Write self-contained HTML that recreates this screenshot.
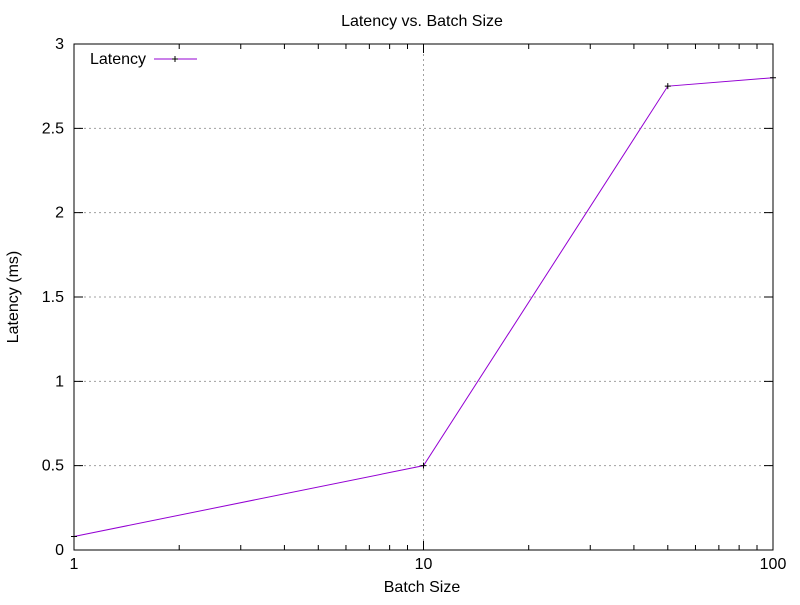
<!DOCTYPE html>
<html><head><meta charset="utf-8"><style>
html,body{margin:0;padding:0;background:#fff;}
svg text{font-family:"Liberation Sans",sans-serif;font-size:16px;fill:#000;}
</style></head><body>
<svg id="chart" width="800" height="600" xmlns="http://www.w3.org/2000/svg">
<rect width="800" height="600" fill="#fff"/>
<g id="grid"></g>
<g id="axes"></g>
<g id="series"></g>
<text x="422" y="26" text-anchor="middle">Latency vs. Batch Size</text>
<text x="422" y="592" text-anchor="middle">Batch Size</text>
<text transform="translate(18,297) rotate(-90)" text-anchor="middle">Latency (ms)</text>
<g>
<text x="90" y="64">Latency</text>
<line x1="154" y1="59" x2="197" y2="59" stroke="#9400d3" stroke-width="1"/>
<path d="M172 59h6M175 56v6" stroke="#000" stroke-width="1"/>
</g>
</svg>
<script>
const batchSizes=[1,10,50,100];
const latencies=[0.08,0.5,2.75,2.8];
const yTicks=[0,0.5,1,1.5,2,2.5,3];
const yTickLabels=["0","0.5","1","1.5","2","2.5","3"];
const xTicks=[1,10,100];
const xTickLabels=["1","10","100"];
const L=74,R=773,T=44,B=550;
const xs=v=>L+(Math.log10(v)-0)/(2-0)*(R-L);
const ys=v=>B-(v-0)/(3-0)*(B-T);
const NS="http://www.w3.org/2000/svg";
function mk(tag,attrs,parent){const e=document.createElementNS(NS,tag);for(const k in attrs)e.setAttribute(k,attrs[k]);parent.appendChild(e);return e;}
const grid=document.getElementById('grid'),axes=document.getElementById('axes'),series=document.getElementById('series');
yTicks.forEach((t,i)=>{const y=ys(t);
 if(t>0&&t<3){const g=mk('line',{x1:L,x2:R,y1:y,y2:y,stroke:'#a0a0a0','stroke-dasharray':'2,3','stroke-width':1},grid);
 }
 const a=mk('path',{d:`M${L} ${y}h9M${R} ${y}h-9`,stroke:'#000','stroke-width':1},axes);
 
 const tx=mk('text',{x:L-10,y:y+5,'text-anchor':'end'},axes);tx.textContent=yTickLabels[i];
 });
xTicks.forEach((t,i)=>{const x=xs(t);
 if(t>1&&t<100){const g=mk('line',{x1:x,x2:x,y1:T,y2:B,stroke:'#a0a0a0','stroke-dasharray':'2,3','stroke-width':1},grid);
 }
 const a=mk('path',{d:`M${x} ${B}v-9M${x} ${T}v9`,stroke:'#000','stroke-width':1},axes);
 
 const tx=mk('text',{x:x,y:B+19,'text-anchor':'middle'},axes);tx.textContent=xTickLabels[i];
 });
[1,10].forEach(d=>{for(let m=2;m<=9;m++){const x=xs(d*m);
 const a=mk('path',{d:`M${x} ${B}v-5M${x} ${T}v5`,stroke:'#000','stroke-width':1},axes);
 }});
const border=mk('rect',{x:L,y:T,width:R-L,height:B-T,fill:'none',stroke:'#000','stroke-width':1},axes);

const pts=batchSizes.map((b,i)=>xs(b)+','+ys(latencies[i])).join(' ');
const pl=mk('polyline',{points:pts,fill:'none',stroke:'#9400d3','stroke-width':1},series);

batchSizes.forEach((b,i)=>{const x=xs(b),y=ys(latencies[i]);
 const p=mk('path',{d:`M${x-3} ${y}h6M${x} ${y-3}v6`,stroke:'#000','stroke-width':1},series);
 });
</script>
</body></html>
